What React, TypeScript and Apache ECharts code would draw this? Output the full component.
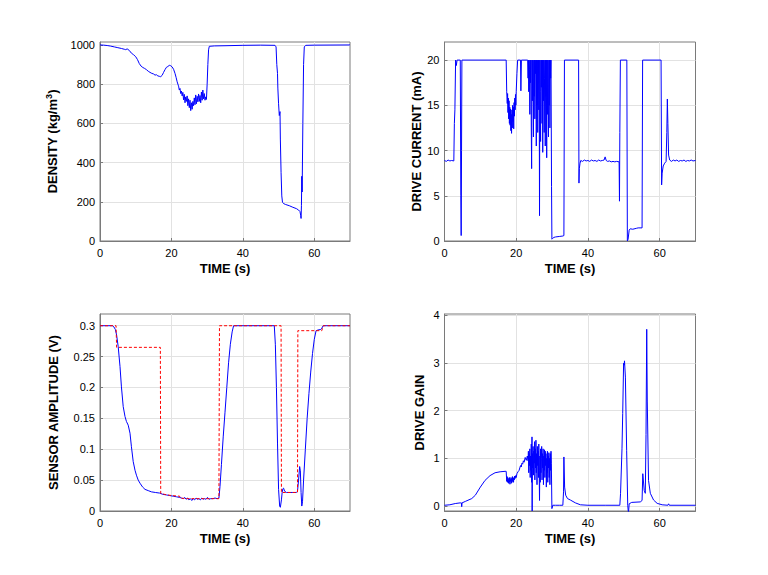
import { useEffect, useRef } from 'react'
import * as echarts from 'echarts'

const timeTicks = [0, 20, 40, 60]
const densityTicks = [0, 200, 400, 600, 800, 1000]
const currentTicks = [0, 5, 10, 15, 20]
const amplitudeTicks = [0, 0.05, 0.1, 0.15, 0.2, 0.25, 0.3]
const gainTicks = [0, 1, 2, 3, 4]

// [time (s), density (kg/m3)]
const density = [
  [0, 1000], [1, 999], [2, 997], [3, 994], [4, 990], [5, 986], [6, 982], [6.8, 978], [7.2, 976], [7.6, 980],
  [8.2, 972], [8.8, 958], [9.4, 950], [10, 940], [10.5, 925], [11, 905], [11.5, 892], [12, 885], [12.5, 880],
  [13, 874], [13.5, 866], [14, 860], [14.5, 855], [15, 852], [15.4, 846], [15.8, 848], [16.2, 842], [16.6, 840],
  [17, 838], [17.4, 845], [17.8, 860], [18.2, 874], [18.6, 886], [19, 890], [19.4, 896], [19.8, 894], [20.2, 888],
  [20.6, 876], [21, 855], [21.3, 835], [21.6, 812], [21.9, 795], [22.0, 790], [22.2, 770], [22.4, 778], [22.6, 752],
  [22.8, 765], [23.0, 740], [23.2, 758], [23.4, 720], [23.6, 748], [23.8, 705], [24.0, 735], [24.2, 712], [24.4, 740],
  [24.6, 690], [24.8, 725], [25.0, 680], [25.2, 718], [25.4, 665], [25.6, 705], [25.8, 672], [26.0, 712], [26.2, 690],
  [26.4, 730], [26.6, 695], [26.8, 745], [27.0, 700], [27.2, 738], [27.4, 710], [27.6, 750], [27.8, 712], [28.0, 742],
  [28.2, 705], [28.4, 760], [28.6, 718], [28.8, 770], [29.0, 725], [29.2, 752], [29.4, 718], [29.6, 735], [29.8, 722],
  [30.0, 800], [30.2, 900], [30.4, 975], [30.6, 993], [32, 995], [35, 996], [40, 998], [45, 999], [49.0, 998],
  [49.3, 990], [49.5, 900], [49.7, 855], [49.8, 780], [50.0, 700], [50.2, 640], [50.4, 660], [50.5, 520], [50.7, 350],
  [50.9, 230], [51.1, 197], [51.5, 190], [52, 186], [53, 180], [54, 172], [55, 165], [55.6, 158], [56, 150],
  [56.2, 130], [56.3, 115], [56.4, 180], [56.5, 330], [56.6, 250], [56.8, 600], [57.0, 900], [57.2, 990],
  [57.6, 998], [60, 999], [70, 1000],
]

// [time (s), drive current (mA)]
const current = [
  [0, 8.9], [0.5, 8.8], [1, 8.95], [1.5, 8.85], [2, 8.9], [2.6, 8.85], [2.75, 13], [2.9, 14.5], [3.1, 20], [3.3, 19.4],
  [3.5, 20], [4.4, 20], [4.55, 5], [4.65, 0.6], [4.75, 10], [4.85, 20], [17.2, 20], [17.35, 16.5], [17.5, 15.2],
  [17.6, 16.3], [17.7, 14.2], [17.8, 15.8], [17.9, 13.5], [18.0, 15.5], [18.1, 13.0], [18.2, 14.8], [18.3, 12.8],
  [18.4, 14.6], [18.5, 12.2], [18.6, 14.0], [18.7, 11.9], [18.8, 14.5], [18.9, 12.5], [19.0, 15.0], [19.1, 13.2],
  [19.2, 14.8], [19.3, 12.4], [19.4, 15.3], [19.5, 13.8], [19.6, 15.8], [19.7, 14.5], [19.8, 16.2], [19.9, 15.0],
  [20.0, 16.5], [20.2, 18.5], [20.4, 20], [21.2, 20], [21.3, 16.6], [21.45, 20], [23.2, 20], [23.3, 18], [23.4, 20],
  [23.5, 16.5], [23.6, 20], [23.7, 19], [23.8, 14], [23.9, 20], [24.0, 17.5], [24.1, 20], [24.2, 12.5], [24.3, 8],
  [24.4, 20], [24.5, 15.5], [24.6, 20], [24.7, 18], [24.8, 11.5], [24.9, 20], [25.0, 16], [25.1, 20], [25.2, 13.5],
  [25.3, 20], [25.4, 18.5], [25.5, 20], [25.6, 10.5], [25.7, 20], [25.8, 15], [25.9, 20], [26.0, 12], [26.1, 19],
  [26.2, 20], [26.3, 14.5], [26.4, 20], [26.5, 2.8], [26.6, 20], [26.7, 16.5], [26.8, 11], [26.9, 20], [27.0, 17],
  [27.1, 20], [27.2, 13], [27.3, 20], [27.4, 9.8], [27.5, 20], [27.6, 15.5], [27.7, 20], [27.8, 12], [27.9, 18],
  [28.0, 20], [28.1, 10.5], [28.2, 20], [28.3, 16], [28.4, 20], [28.5, 9.2], [28.6, 20], [28.7, 14], [28.8, 20],
  [28.9, 17], [29.0, 11.5], [29.1, 20], [29.2, 15], [29.3, 20], [29.4, 12.5], [29.5, 20], [29.6, 18], [29.7, 20],
  [29.85, 6], [29.95, 0.2], [30.2, 0.3], [30.5, 0.4], [31, 0.45], [32, 0.5], [33, 0.55], [33.3, 0.6], [33.45, 20],
  [37.4, 20], [37.5, 6.4], [37.6, 8], [37.8, 8.6], [38, 8.9], [38.5, 8.8], [39, 8.95], [39.5, 8.85], [40, 8.9],
  [40.5, 8.8], [41, 8.95], [41.5, 8.85], [42, 8.9], [42.5, 8.8], [43, 8.95], [43.5, 8.85], [44, 8.9], [44.5, 8.95],
  [44.8, 9.3], [45.1, 8.9], [45.5, 8.8], [46, 8.85], [46.5, 8.75], [47, 8.8], [47.5, 8.75], [48, 8.8], [48.7, 8.75],
  [48.8, 4.4], [48.9, 12], [49.05, 20], [50.85, 20], [51.0, 0], [51.2, 0.2], [51.5, 1.2], [51.8, 1.35], [52.5, 1.3],
  [53.5, 1.4], [54, 1.45], [55.1, 1.45], [55.25, 20], [60.4, 20], [60.55, 6.2], [60.7, 7.5], [61, 8.3], [61.4, 8.6],
  [61.8, 8.8], [62.0, 12], [62.15, 15.7], [62.3, 13], [62.5, 9.5], [62.8, 8.95], [63.3, 8.8], [63.8, 8.95],
  [64.3, 8.85], [64.8, 8.95], [65.3, 8.8], [65.8, 8.9], [66.3, 8.85], [66.8, 8.95], [67.3, 8.8], [67.8, 8.9],
  [68.3, 8.85], [68.8, 8.95], [69.3, 8.85], [70, 8.9],
]

// [time (s), sensor amplitude (V)] measured
const amplitude = [
  [0, 0.3], [3.5, 0.3], [3.9, 0.298], [4.3, 0.294], [4.65, 0.285], [5.1, 0.266], [5.6, 0.234], [6.0, 0.201],
  [6.5, 0.169], [7.0, 0.153], [7.4, 0.145], [7.9, 0.139], [8.4, 0.126], [8.8, 0.104], [9.3, 0.08], [9.8, 0.066],
  [10.2, 0.058], [10.7, 0.05], [11.2, 0.045], [11.9, 0.039], [12.6, 0.035], [13.5, 0.033], [14.4, 0.031],
  [15.5, 0.03], [16.7, 0.029], [17.6, 0.027], [18.6, 0.026], [19.5, 0.025], [20.5, 0.024], [21.4, 0.023],
  [22.3, 0.022], [22.8, 0.021], [23.3, 0.02], [23.7, 0.022], [24.1, 0.019], [24.5, 0.021], [24.9, 0.018],
  [25.3, 0.02], [25.7, 0.017], [26.1, 0.02], [26.5, 0.018], [26.9, 0.021], [27.3, 0.019], [27.7, 0.02],
  [28.1, 0.018], [28.5, 0.021], [28.9, 0.019], [29.3, 0.02], [29.7, 0.019], [30.1, 0.022], [30.5, 0.019],
  [31, 0.02], [31.6, 0.02], [32.2, 0.021], [32.8, 0.02], [33.3, 0.021], [33.6, 0.04], [34.0, 0.075], [34.5, 0.12],
  [35.0, 0.16], [35.5, 0.2], [36.0, 0.24], [36.5, 0.27], [37.0, 0.29], [37.4, 0.3], [48.8, 0.3], [49.1, 0.27],
  [49.4, 0.2], [49.7, 0.11], [50.0, 0.035], [50.3, 0.008], [50.5, 0.006], [50.8, 0.018], [51.0, 0.03],
  [51.2, 0.036], [51.4, 0.037], [51.7, 0.032], [52.2, 0.03], [53, 0.03], [54, 0.03], [55, 0.03], [55.3, 0.032],
  [55.6, 0.05], [55.9, 0.072], [56.1, 0.065], [56.3, 0.03], [56.5, 0.008], [56.7, 0.015], [57.0, 0.05],
  [57.5, 0.1], [58.0, 0.15], [58.5, 0.19], [59.0, 0.225], [59.5, 0.255], [60.0, 0.278], [60.5, 0.292],
  [61.0, 0.293], [61.8, 0.294], [62.1, 0.296], [62.5, 0.3], [70, 0.3],
]

// [time (s), sensor amplitude setpoint (V)]
const amplitudeSet = [
  [0, 0.3], [4.5, 0.3], [4.65, 0.265], [16.9, 0.265], [17.0, 0.0286], [18, 0.027], [20, 0.025], [22.3, 0.024],
  [22.4, 0.021], [24, 0.02], [33.3, 0.02], [33.45, 0.3], [50.7, 0.3], [50.8, 0.03], [55.3, 0.03], [55.4, 0.292],
  [62.1, 0.292], [62.5, 0.3], [70, 0.3],
]

// [time (s), drive gain]
const gain = [
  [0, 0.02], [1.5, 0.03], [3, 0.056], [4.4, 0.07], [4.7, 0.07], [4.8, -0.01], [4.9, 0.07], [5.8, 0.1], [7.6, 0.16],
  [8.6, 0.23], [10, 0.4], [11.3, 0.54], [12.7, 0.64], [14.1, 0.7], [15.5, 0.72], [16.9, 0.73], [17.2, 0.73],
  [17.35, 0.52], [17.45, 0.62], [17.55, 0.5], [17.65, 0.6], [17.75, 0.55], [17.85, 0.48], [17.95, 0.58],
  [18.05, 0.5], [18.15, 0.6], [18.25, 0.46], [18.35, 0.56], [18.45, 0.52], [18.55, 0.6], [18.65, 0.48],
  [18.75, 0.58], [18.85, 0.5], [18.95, 0.62], [19.05, 0.53], [19.15, 0.59], [19.25, 0.5], [19.35, 0.6],
  [19.45, 0.55], [19.55, 0.63], [19.7, 0.58], [19.85, 0.64], [20.0, 0.6], [20.2, 0.68], [20.5, 0.72], [20.8, 0.75],
  [21.0, 0.8], [21.2, 0.85], [21.4, 0.82], [21.6, 0.9], [21.8, 0.88], [22.0, 0.95], [22.2, 0.92], [22.5, 1.02],
  [22.8, 0.96], [23.1, 1.05], [23.3, 0.95], [23.4, 1.15], [23.5, 0.7], [23.6, 1.1], [23.7, 0.85], [23.8, 1.2],
  [23.9, 0.6], [24.0, 1.05], [24.1, 0.75], [24.2, 1.3], [24.3, 0.5], [24.4, 1.45], [24.45, -0.1], [24.5, 1.1],
  [24.6, 0.8], [24.7, 1.25], [24.8, 0.65], [24.9, 1.15], [25.0, 0.9], [25.1, 1.35], [25.2, 0.55], [25.3, 1.2],
  [25.4, 0.8], [25.5, 1.38], [25.6, 0.7], [25.7, 1.1], [25.8, 0.45], [25.9, 1.25], [26.0, 0.85], [26.1, 1.15],
  [26.2, 0.6], [26.3, 1.3], [26.4, 0.75], [26.5, 0.12], [26.6, 1.05], [26.7, 0.5], [26.8, 1.2], [26.9, 0.7],
  [27.0, 1.0], [27.1, 1.25], [27.2, 0.55], [27.3, 1.1], [27.4, 0.8], [27.5, 1.2], [27.6, 0.45], [27.7, 1.05],
  [27.8, 0.75], [27.9, 1.18], [28.0, 0.6], [28.1, 1.15], [28.2, 0.85], [28.3, 1.1], [28.4, 0.4], [28.5, 1.0],
  [28.6, 0.7], [28.7, 1.15], [28.8, 0.5], [28.9, 1.05], [29.0, 0.8], [29.1, 1.12], [29.2, 0.6], [29.3, 1.0],
  [29.4, 0.45], [29.5, 1.1], [29.6, 0.75], [29.7, 1.15], [29.8, 0.9], [29.95, -0.05], [30.2, 0.02], [31, 0.02],
  [32, 0.02], [33.0, 0.02], [33.2, 0.3], [33.3, 1.03], [33.5, 0.4], [33.8, 0.23], [34.3, 0.16], [35.1, 0.13],
  [36.5, 0.07], [37.9, 0.03], [40, 0.02], [45, 0.02], [48.9, 0.02], [49.1, 0.27], [49.5, 1.2], [49.7, 1.94],
  [49.95, 2.99], [50.1, 2.95], [50.2, 3.04], [50.45, 2.7], [50.8, 1.17], [51.1, 0.02], [51.3, -0.15], [51.5, 0.05],
  [52.2, 0.08], [54.6, 0.09], [55.1, 0.12], [55.3, 0.68], [55.7, 0.33], [56.0, 0.27], [56.2, 1.5], [56.4, 3.7],
  [56.55, 2.2], [56.9, 0.54], [57.4, 0.27], [58.3, 0.13], [59.3, 0.06], [60.7, 0.03], [62.3, 0.02], [62.5, 0.05],
  [62.7, 0.02], [70, 0.02],
]

const FONT = 'Liberation Sans, Arial, sans-serif'

type Panel = {
  left: number
  top: number
  width: number
  height: number
  yMin: number
  yMax: number
  yTicks: number[]
  yName: string
  yNameGap: number
}

const panels: Panel[] = [
  { left: 100, top: 42, width: 250, height: 199, yMin: 0, yMax: 1015, yTicks: densityTicks, yName: '{n|DENSITY (kg/m}{s|3}{n|)}', yNameGap: 39 },
  { left: 444.5, top: 42, width: 251, height: 199, yMin: 0, yMax: 22, yTicks: currentTicks, yName: 'DRIVE CURRENT (mA)', yNameGap: 20 },
  { left: 100, top: 314, width: 250, height: 197, yMin: 0, yMax: 0.319, yTicks: amplitudeTicks, yName: 'SENSOR AMPLITUDE (V)', yNameGap: 40 },
  { left: 444.5, top: 314, width: 251, height: 197, yMin: -0.1, yMax: 4.02, yTicks: gainTicks, yName: 'DRIVE GAIN', yNameGap: 19 },
]

const boxColor = '#7a7a7a'
const gridColor = '#e2e2e2'

const titleStyle = {
  color: '#000',
  fontFamily: FONT,
  fontWeight: 'bold',
  fontSize: 13,
  rich: {
    n: { color: '#000', fontFamily: FONT, fontWeight: 'bold', fontSize: 13, lineHeight: 17 },
    s: { color: '#000', fontFamily: FONT, fontWeight: 'bold', fontSize: 9, lineHeight: 10, verticalAlign: 'top' },
  },
}

export default function App() {
  const ref = useRef<HTMLDivElement>(null)

  useEffect(() => {
    if (!ref.current) return
    const chart = echarts.init(ref.current, null, { renderer: 'svg' })

    const line = (idx: number, data: number[][], color: string, dashed = false) => ({
      type: 'line',
      xAxisIndex: idx,
      yAxisIndex: idx,
      data,
      symbol: 'none',
      showSymbol: false,
      clip: true,
      lineStyle: { color, width: 1, type: dashed ? [3, 2] : 'solid' },
      z: dashed ? 3 : 2,
    })

    chart.setOption({
      animation: false,
      backgroundColor: '#ffffff',
      grid: panels.map((p) => ({
        left: p.left,
        top: p.top,
        width: p.width,
        height: p.height,
        show: true,
        borderColor: boxColor,
        borderWidth: 1,
        backgroundColor: 'transparent',
        containLabel: false,
      })),
      xAxis: panels.map((_, i) => ({
        type: 'value',
        gridIndex: i,
        min: 0,
        max: 70,
        name: 'TIME (s)',
        nameLocation: 'middle',
        nameGap: 21,
        nameTextStyle: titleStyle,
        axisLine: { show: true, onZero: false, lineStyle: { color: boxColor, width: 1 } },
        axisTick: { show: true, inside: true, length: 3, customValues: timeTicks, lineStyle: { color: boxColor } },
        axisLabel: { color: '#000', fontFamily: FONT, fontSize: 11, margin: 6, customValues: timeTicks },
        splitLine: { show: true, lineStyle: { color: gridColor, width: 1 } },
      })),
      yAxis: panels.map((p, i) => ({
        type: 'value',
        gridIndex: i,
        min: p.yMin,
        max: p.yMax,
        name: p.yName,
        nameLocation: 'middle',
        nameGap: p.yNameGap,
        nameTextStyle: titleStyle,
        axisLine: { show: true, onZero: false, lineStyle: { color: boxColor, width: 1 } },
        axisTick: { show: true, inside: true, length: 3, customValues: p.yTicks, lineStyle: { color: boxColor } },
        axisLabel: {
          color: '#000',
          fontFamily: FONT,
          fontSize: 11,
          margin: 5,
          customValues: p.yTicks,
          formatter: (v: number) => String(v),
        },
        splitLine: { show: true, lineStyle: { color: gridColor, width: 1 } },
      })),
      series: [
        line(0, density, '#0000ff'),
        line(1, current, '#0000ff'),
        line(2, amplitude, '#0000ff'),
        line(2, amplitudeSet, '#ff0000', true),
        line(3, gain, '#0000ff'),
      ],
    })

    return () => chart.dispose()
  }, [])

  return (
    <div style={{ position: 'absolute', left: 0, top: 0, width: 768, height: 575, background: '#ffffff' }}>
      <div ref={ref} style={{ width: 768, height: 575 }} />
    </div>
  )
}
